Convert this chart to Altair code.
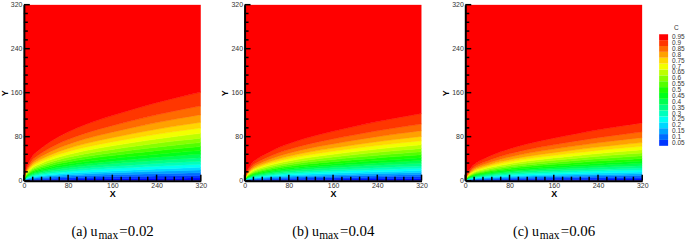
import altair as alt
import pandas as pd

# contour levels of C
levels = [0.05, 0.1, 0.15, 0.2, 0.25, 0.3, 0.35, 0.4, 0.45, 0.5,
          0.55, 0.6, 0.65, 0.7, 0.75, 0.8, 0.85, 0.9, 0.95]
level_labels = ["0.05", "0.1", "0.15", "0.2", "0.25", "0.3", "0.35", "0.4", "0.45", "0.5",
                "0.55", "0.6", "0.65", "0.7", "0.75", "0.8", "0.85", "0.9", "0.95"]
profile = [0.03, 0.06, 0.09, 0.12, 0.15, 0.185, 0.22, 0.26, 0.30, 0.34,
           0.385, 0.43, 0.48, 0.535, 0.595, 0.66, 0.745, 0.845, 1.0]
x_pos = [0, 2, 5, 10, 16, 24, 32, 48, 64, 80, 112, 160, 200, 240, 280, 320]
shape = [0, 0.09, 0.155, 0.22, 0.28, 0.33, 0.37, 0.44, 0.50, 0.55, 0.635, 0.735, 0.81, 0.88, 0.942, 1.0]
# height of C=0.95 contour at x=320 for each panel
h95 = [161, 122, 105]
tags = ["(a) u", "(b) u", "(c) u"]
umax = ["=0.02", "=0.04", "=0.06"]

band_colors = ["#0000ff", "#0036ff", "#006bff", "#00a1ff", "#00d7ff", "#00fff2", "#00ffbc",
               "#00ff86", "#00ff51", "#00ff1b", "#1bff00", "#51ff00", "#86ff00", "#bcff00",
               "#f2ff00", "#ffd700", "#ffa100", "#ff6b00", "#ff3600", "#ff0000"]

major_ticks = [0, 80, 160, 240, 320]
minor_ticks = [16, 32, 48, 64, 96, 112, 128, 144, 176, 192, 208, 224, 256, 272, 288, 304]

W, H = 178, 177
FONT = "Liberation Sans"


def bands_df(h):
    rows = []
    for xv, s in zip(x_pos, shape):
        for i in range(20):
            lo = 0.0 if i == 0 else h * profile[i - 1] * s
            hi = 320.0 if i == 19 else h * profile[i] * s
            rows.append({"x": xv, "lo": lo, "hi": hi, "band": i, "col": band_colors[i]})
    return pd.DataFrame(rows)


xs = alt.Scale(domain=[0, 320], nice=False, zero=False)
ys = alt.Scale(domain=[0, 320], nice=False, zero=False)


def panel(k, with_legend=False):
    df = bands_df(h95[k])
    area = alt.Chart(df).mark_area(interpolate="monotone", clip=True, strokeWidth=0.5).encode(
        x=alt.X("x:Q", scale=xs, axis=alt.Axis(values=major_ticks, ticks=False, grid=False,
                                              domainColor="black", domainWidth=2, zindex=1,
                                              labelFont=FONT, labelFontSize=7, labelColor="#333",
                                              labelPadding=1, labelFlush=False,
                                              title="X", titleFont=FONT, titleFontSize=9,
                                              titleFontWeight="bold", titlePadding=1)),
        y=alt.Y("lo:Q", scale=ys, stack=None,
                axis=alt.Axis(values=major_ticks, ticks=False, grid=False,
                              domainColor="black", domainWidth=2, zindex=1,
                              labelFont=FONT, labelFontSize=7, labelColor="#333",
                              labelPadding=2, labelFlush=False,
                              title="Y", titleFont=FONT, titleFontSize=9,
                              titleFontWeight="bold", titlePadding=1)),
        y2="hi:Q",
        fill=alt.Fill("col:N", scale=None),
        stroke=alt.Stroke("col:N", scale=None),
        detail="band:N",
    )
    tmaj = pd.DataFrame({"t": major_ticks})
    tmin = pd.DataFrame({"t": minor_ticks})
    yt_maj = alt.Chart(tmaj).mark_rule(color="black", strokeWidth=1.5).encode(
        y=alt.Y("t:Q", scale=ys), x=alt.value(0), x2=alt.value(6))
    yt_min = alt.Chart(tmin).mark_rule(color="black", strokeWidth=1.5).encode(
        y=alt.Y("t:Q", scale=ys), x=alt.value(0), x2=alt.value(4))
    xt_maj = alt.Chart(tmaj).mark_rule(color="black", strokeWidth=1.5).encode(
        x=alt.X("t:Q", scale=xs), y=alt.value(H), y2=alt.value(H - 6))
    xt_min = alt.Chart(tmin).mark_rule(color="black", strokeWidth=1.5).encode(
        x=alt.X("t:Q", scale=xs), y=alt.value(H), y2=alt.value(H - 4))

    cap_df = pd.DataFrame({"a": [tags[k]], "b": ["max"], "c": [umax[k]]})
    cap1 = alt.Chart(cap_df).mark_text(font="Liberation Serif", fontSize=14, align="left",
                                        baseline="alphabetic", color="black").encode(
        text="a:N", x=alt.value(48), y=alt.value(233))
    cap2 = alt.Chart(cap_df).mark_text(font="Liberation Serif", fontSize=11.5, align="left",
                                        baseline="alphabetic", color="black").encode(
        text="b:N", x=alt.value(75), y=alt.value(236))
    cap3 = alt.Chart(cap_df).mark_text(font="Liberation Serif", fontSize=15, align="left",
                                        baseline="alphabetic", color="black").encode(
        text="c:N", x=alt.value(96), y=alt.value(233))

    main = alt.layer(area, yt_maj, yt_min, xt_maj, xt_min, cap1, cap2, cap3)
    if not with_legend:
        return main.properties(width=W, height=H)

    ldf = pd.DataFrame({"lvl": levels, "label": level_labels,
                        "col": band_colors[1:]})
    ldf["lo"] = ldf["lvl"] - 0.025
    ldf["hi"] = ldf["lvl"] + 0.025
    ls = alt.Scale(domain=[-0.2717, 1.2268], nice=False, zero=False)
    lrect = alt.Chart(ldf).mark_rect().encode(
        x=alt.value(195), x2=alt.value(204),
        y=alt.Y("lo:Q", scale=ls, axis=None), y2="hi:Q",
        fill=alt.Fill("col:N", scale=None))
    ltext = alt.Chart(ldf).mark_text(font=FONT, fontSize=6.5, align="left", baseline="middle",
                                     color="#333").encode(
        x=alt.value(208), y=alt.Y("lvl:Q", scale=ls, axis=None), text="label:N")
    ltitle = alt.Chart(pd.DataFrame({"t": ["C"]})).mark_text(
        font=FONT, fontSize=6.5, align="left", baseline="middle", color="#333").encode(
        x=alt.value(210), y=alt.value(23), text="t:N")
    leg = alt.layer(lrect, ltext, ltitle)
    return alt.layer(main, leg).resolve_scale(y="independent").properties(width=W, height=H)


chart = alt.hconcat(panel(0), panel(1), panel(2, with_legend=True), spacing=44, bounds="flush")
chart = chart.properties(padding={"left": 0, "top": 0, "right": 0, "bottom": 0}).configure_view(stroke=None)

chart.save("out.html", embed_options={"renderer": "svg", "actions": False})
